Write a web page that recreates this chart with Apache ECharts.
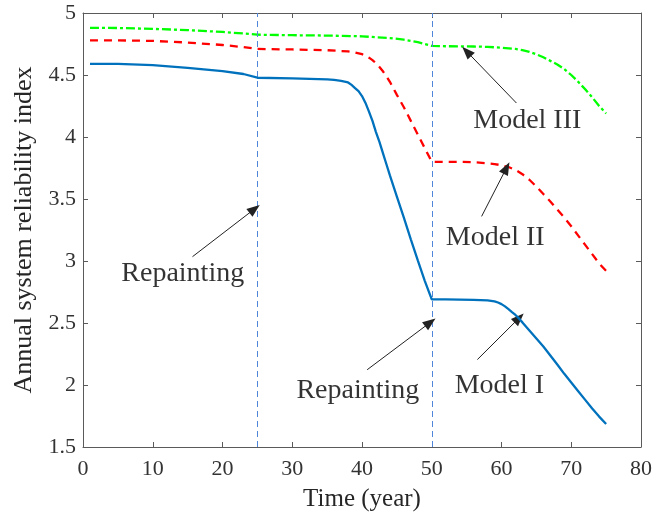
<!DOCTYPE html>
<html>
<head>
<meta charset="utf-8">
<script src="https://cdn.jsdelivr.net/npm/echarts@6/dist/echarts.min.js"></script>
<style>html,body{margin:0;padding:0;background:#fff}#c{width:655px;height:519px}</style>
</head>
<body>
<div id="c"></div>
<script>
// ---- data ----
const xTicks = [0, 10, 20, 30, 40, 50, 60, 70, 80];
const yTicks = [1.5, 2, 2.5, 3, 3.5, 4, 4.5, 5];

const model1X = [1,5,10,15,20,23,25,30,35,36,37,38,38.5,39,39.5,40,40.5,41,41.5,42,42.5,43,43.5,44,45,46,47,48,49,50,52,54,56,58,59,59.5,60,60.5,61,61.5,62,62.5,63,64,65,66,67,68,69,70,71,72,73,74,75];
const model1Y = [4.59,4.589,4.58,4.558,4.532,4.508,4.478,4.472,4.465,4.46,4.452,4.44,4.42,4.395,4.37,4.33,4.275,4.205,4.13,4.04,3.96,3.87,3.78,3.69,3.52,3.35,3.175,3.005,2.84,2.69,2.69,2.689,2.687,2.683,2.675,2.665,2.652,2.634,2.612,2.588,2.565,2.537,2.505,2.44,2.375,2.31,2.238,2.165,2.09,2.02,1.95,1.88,1.81,1.745,1.685];

const model2X = [1,5,10,15,20,23,25,30,35,38,39,40,40.5,41,41.5,42,42.5,43,43.5,44,45,46,47,48,49,50,52,54,56,58,59,60,61,62,63,64,65,66,67,68,69,70,71,72,73,74,75];
const model2Y = [4.78,4.779,4.775,4.762,4.742,4.725,4.71,4.706,4.70,4.69,4.682,4.668,4.655,4.64,4.62,4.595,4.565,4.53,4.49,4.445,4.34,4.24,4.13,4.02,3.91,3.80,3.80,3.80,3.797,3.788,3.782,3.772,3.758,3.735,3.70,3.655,3.60,3.54,3.48,3.415,3.35,3.28,3.205,3.13,3.055,2.98,2.92];

const model3X = [1,5,10,15,20,23,25,30,35,40,44,46,48,50,52,54,56,58,60,62,63,64,65,66,67,68,69,70,71,72,73,74,75];
const model3Y = [4.88,4.879,4.872,4.862,4.847,4.835,4.825,4.821,4.818,4.812,4.798,4.785,4.765,4.735,4.732,4.731,4.73,4.727,4.72,4.71,4.70,4.686,4.667,4.643,4.614,4.585,4.548,4.50,4.445,4.385,4.32,4.25,4.19];

const repaintYears = [25, 50];

const labelTexts = ['Repainting', 'Repainting', 'Model I', 'Model II', 'Model III'];
const labelX = [14.3, 39.4, 59.7, 59.1, 63.7];
const labelY = [2.9, 1.955, 1.995, 3.19, 4.13];

const arrowFromX = [15.7, 40.74, 56.54, 57.15, 62.14];
const arrowFromY = [3.035, 2.123, 2.205, 3.36, 4.274];
const arrowToX = [24.6, 49.79, 62.52, 60.71, 55.01];
const arrowToY = [3.42, 2.505, 2.54, 3.75, 4.69];

// ---- build ----
const zip = (xs, ys) => xs.map((x, i) => [x, ys[i]]);
const font = "'Liberation Serif', 'Times New Roman', serif";
const axisColor = '#5a5a5a';
const vlineStyle = {color: '#4F86DA', width: 1, type: [6, 4], opacity: 1};

const chart = echarts.init(document.getElementById('c'), null, {renderer: 'canvas'});

const baseX = {
  type: 'value', min: 0, max: 80, interval: 10,
  splitLine: {show: false},
  axisLine: {show: true, onZero: false, lineStyle: {color: axisColor, width: 1}},
  axisTick: {show: true, inside: true, length: 5, lineStyle: {color: axisColor}}
};
const baseY = {
  type: 'value', min: 1.5, max: 5, interval: 0.5,
  splitLine: {show: false},
  axisLine: {show: true, onZero: false, lineStyle: {color: axisColor, width: 1}},
  axisTick: {show: true, inside: true, length: 5, lineStyle: {color: axisColor}}
};

const arrowData = arrowFromX.map((x, i) => [
  {coord: [x, arrowFromY[i]]},
  {coord: [arrowToX[i], arrowToY[i]]}
]);

const option = {
  animation: false,
  backgroundColor: '#ffffff',
  grid: {left: 83, right: 12, top: 13, bottom: 72, containLabel: false},
  xAxis: [
    Object.assign({}, baseX, {
      position: 'bottom',
      name: 'Time (year)', nameLocation: 'middle', nameGap: 40,
      nameTextStyle: {fontFamily: font, fontSize: 25, color: '#262626'},
      axisLabel: {show: true, margin: 11, fontFamily: font, fontSize: 22, color: '#333333',
        formatter: v => xTicks.includes(v) ? String(v) : ''}
    }),
    Object.assign({}, baseX, {position: 'top', axisLabel: {show: false}})
  ],
  yAxis: [
    Object.assign({}, baseY, {
      position: 'left',
      name: 'Annual system reliability index', nameLocation: 'middle', nameGap: 46,
      nameTextStyle: {fontFamily: font, fontSize: 26, color: '#262626'},
      axisLabel: {show: true, margin: 7, fontFamily: font, fontSize: 22, color: '#333333',
        formatter: v => yTicks.includes(v) ? String(v) : ''}
    }),
    Object.assign({}, baseY, {position: 'right', axisLabel: {show: false}})
  ],
  series: [
    {
      name: 'repaint', type: 'line', data: [], z: 2,
      markLine: {
        silent: true, symbol: ['none', 'none'], animation: false,
        label: {show: false},
        lineStyle: vlineStyle,
        data: repaintYears.map(y => ({xAxis: y, lineStyle: vlineStyle}))
      }
    },
    {
      name: 'Model I', type: 'line', data: zip(model1X, model1Y),
      showSymbol: false, symbol: 'none', smooth: false, z: 5,
      lineStyle: {color: '#0072BD', width: 2.3, type: 'solid'}
    },
    {
      name: 'Model II', type: 'line', data: zip(model2X, model2Y),
      showSymbol: false, symbol: 'none', smooth: false, z: 4,
      lineStyle: {color: '#FF0000', width: 2.3, type: [8, 6]}
    },
    {
      name: 'Model III', type: 'line', data: zip(model3X, model3Y),
      showSymbol: false, symbol: 'none', smooth: false, z: 3,
      lineStyle: {color: '#00FF00', width: 2.3, type: [9, 3, 3, 3]}
    },
    {
      name: 'arrows', type: 'line', data: [], z: 6,
      markLine: {
        silent: true, animation: false,
        symbol: ['none', 'triangle'], symbolSize: [10, 13],
        label: {show: false},
        lineStyle: {color: '#222222', width: 1, type: 'solid'},
        itemStyle: {color: '#000000'},
        data: arrowData
      }
    },
    {
      name: 'labels', type: 'scatter', symbolSize: 0, z: 7, silent: true,
      data: labelTexts.map((t, i) => ({name: t, value: [labelX[i], labelY[i]]})),
      label: {
        show: true, position: 'inside', formatter: p => p.name,
        fontFamily: font, fontSize: 28, color: '#000000',
        textBorderWidth: 0, textShadowBlur: 0
      }
    }
  ]
};
chart.setOption(option);
</script>
</body>
</html>
